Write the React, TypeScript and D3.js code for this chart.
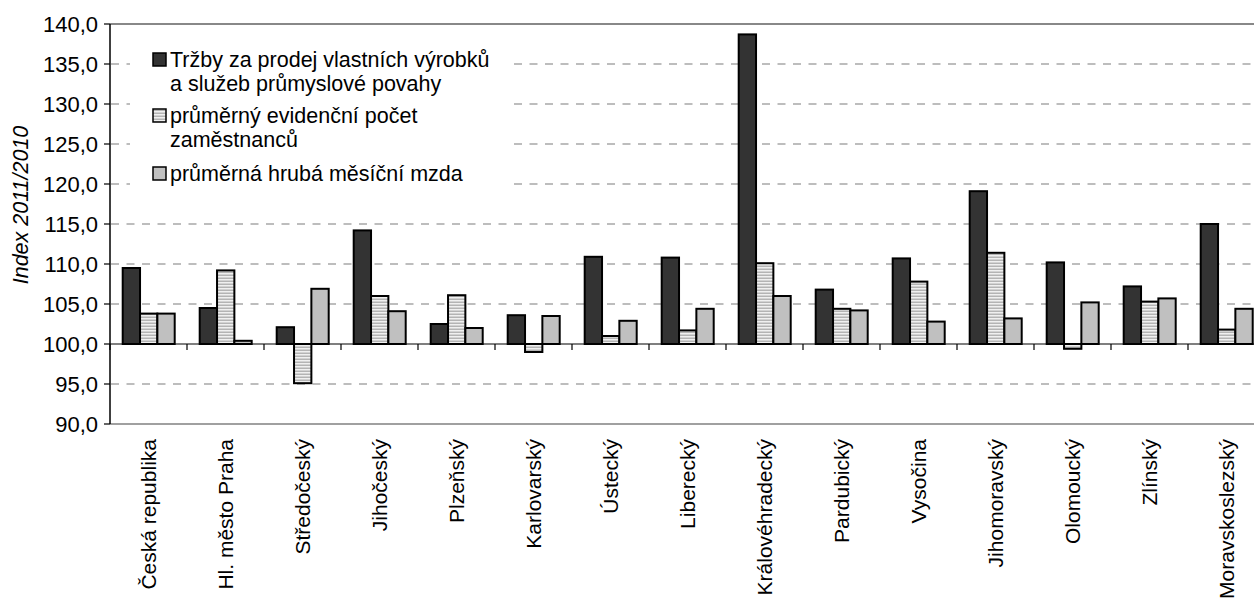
import * as d3 from "d3";

const categories = [
  "Česká republika",
  "Hl. město Praha",
  "Středočeský",
  "Jihočeský",
  "Plzeňský",
  "Karlovarský",
  "Ústecký",
  "Liberecký",
  "Královéhradecký",
  "Pardubický",
  "Vysočina",
  "Jihomoravský",
  "Olomoucký",
  "Zlínský",
  "Moravskoslezský",
];

const trzby = [109.5, 104.5, 102.1, 114.2, 102.5, 103.6, 110.9, 110.8, 138.7, 106.8, 110.7, 119.1, 110.2, 107.2, 115.0];
const zamestnanci = [103.8, 109.2, 95.1, 106.0, 106.1, 99.0, 101.0, 101.7, 110.1, 104.4, 107.8, 111.4, 99.4, 105.3, 101.8];
const mzda = [103.8, 100.4, 106.9, 104.1, 102.0, 103.5, 102.9, 104.4, 106.0, 104.2, 102.8, 103.2, 105.2, 105.7, 104.4];

const seriesNames = [
  ["Tržby za prodej vlastních výrobků", "a služeb průmyslové povahy"],
  ["průměrný evidenční počet", "zaměstnanců"],
  ["průměrná hrubá měsíční mzda"],
];

const yTicks = [90, 95, 100, 105, 110, 115, 120, 125, 130, 135, 140];

const W = 1254;
const H = 602;
const FONT = "'Liberation Sans', Arial, sans-serif";

const series = [trzby, zamestnanci, mzda];
const fills = ["#333333", "url(#stripes)", "#c0c0c0"];

export default function App() {
  const x0 = d3.scaleBand<string>().domain(categories).range([110, 1265]);
  const x1 = d3.scaleBand<number>().domain([0, 1, 2]).range([12.7, 64.7]);
  const y = d3.scaleLinear().domain([90, 140]).range([424, 24]);
  const fmt = (v: number) => d3.format(".1f")(v).replace(".", ",");
  const base = y(100);

  const legendBaselines = [[67, 91], [123, 147], [181]];

  return (
    <svg width={W} height={H} style={{ position: "absolute", left: 0, top: 0, background: "#fff" }} fontFamily={FONT}>
      <defs>
        <pattern id="stripes" width="4" height="3" patternUnits="userSpaceOnUse">
          <rect width="4" height="3" fill="#f0f0f0" />
          <rect y="1.5" width="4" height="1.5" fill="#b4b4b4" />
        </pattern>
      </defs>

      {/* gridlines */}
      {yTicks
        .filter((t) => t !== 90 && t !== 100 && t !== 140)
        .map((t) => (
          <line key={t} x1={111} x2={W} y1={y(t)} y2={y(t)} stroke="#a8a8a8" strokeWidth={1.5} strokeDasharray="8,7.5" />
        ))}

      {/* legend background */}
      <rect x={130} y={30} width={378} height={170} fill="#fff" />

      {/* borders */}
      <line x1={110} x2={W} y1={y(140)} y2={y(140)} stroke="#888" strokeWidth={2} />
      <line x1={110} x2={W} y1={y(90)} y2={y(90)} stroke="#a0a0a0" strokeWidth={2} />

      {/* bars */}
      {categories.map((c, i) => (
        <g key={c} transform={`translate(${x0(c)},0)`}>
          {series.map((s, k) => {
            const v = s[i];
            const yy = y(v);
            return (
              <rect
                key={k}
                x={x1(k)}
                y={Math.min(yy, base)}
                width={x1.bandwidth()}
                height={Math.abs(yy - base)}
                fill={fills[k]}
                stroke="#000"
                strokeWidth={2}
              />
            );
          })}
        </g>
      ))}

      {/* x axis at 100 */}
      <line x1={110} x2={W} y1={base} y2={base} stroke="#000" strokeWidth={1.2} />
      {categories.map((c) => (
        <line key={c} x1={x0(c)} x2={x0(c)} y1={base} y2={base + 6} stroke="#000" strokeWidth={1.2} />
      ))}

      {/* y axis */}
      <line x1={110} x2={110} y1={y(140)} y2={y(90)} stroke="#000" strokeWidth={1.5} />
      {yTicks.map((t) => (
        <g key={t}>
          <line x1={104} x2={110} y1={y(t)} y2={y(t)} stroke="#000" strokeWidth={1.2} />
          <text x={98} y={y(t)} dy="0.36em" textAnchor="end" fontSize={22} fill="#000">
            {fmt(t)}
          </text>
        </g>
      ))}

      {/* y title */}
      <text
        transform={`translate(20,205) rotate(-90)`}
        textAnchor="middle"
        dy="0.35em"
        fontSize={21.5}
        fontStyle="italic"
        fill="#000"
      >
        Index 2011/2010
      </text>

      {/* category labels */}
      {categories.map((c) => (
        <text
          key={c}
          transform={`translate(${(x0(c) ?? 0) + x0.bandwidth() / 2},439) rotate(-90)`}
          textAnchor="end"
          dy="0.36em"
          fontSize={21}
          fill="#000"
        >
          {c}
        </text>
      ))}

      {/* legend */}
      {seriesNames.map((lines, k) => (
        <g key={k}>
          <rect
            x={153}
            y={legendBaselines[k][0] - 14}
            width={13}
            height={13}
            fill={fills[k]}
            stroke="#000"
            strokeWidth={1.5}
          />
          {lines.map((ln, j) => (
            <text key={j} x={170} y={legendBaselines[k][j]} fontSize={21.5} fill="#000">
              {ln}
            </text>
          ))}
        </g>
      ))}
    </svg>
  );
}
